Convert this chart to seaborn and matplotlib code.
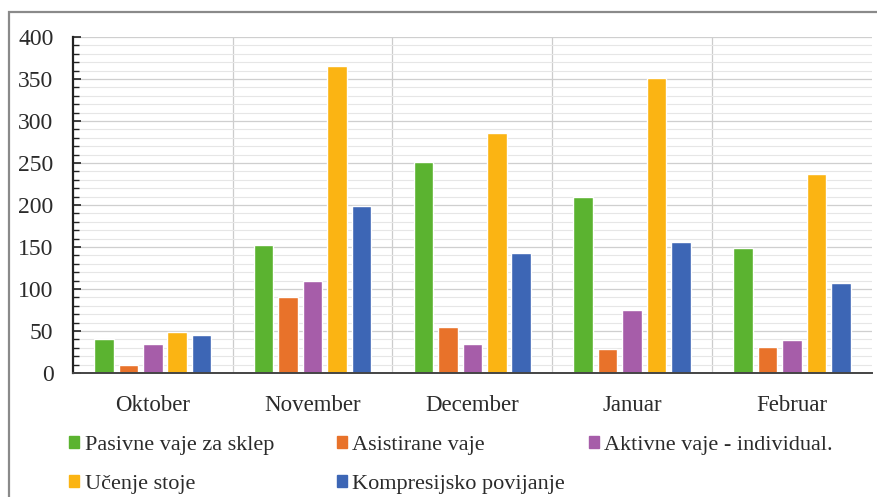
import matplotlib
matplotlib.use("Agg")
import matplotlib.pyplot as plt
import matplotlib.patches as mpatches
from matplotlib.ticker import MultipleLocator
import numpy as np
import pandas as pd
import seaborn as sns

months = ["Oktober", "November", "December", "Januar", "Februar"]
series_names = [
    "Pasivne vaje za sklep",
    "Asistirane vaje",
    "Aktivne vaje - individual.",
    "Učenje stoje",
    "Kompresijsko povijanje",
]
pasivne = [40, 152, 251, 209, 149]
asistirane = [9, 91, 55, 29, 31]
aktivne = [35, 109, 35, 75, 39]
ucenje = [49, 365, 286, 351, 237]
kompresijsko = [45, 199, 143, 156, 107]
colors = ["#5BB330", "#E8722A", "#A65DA9", "#FBB413", "#3D66B5"]

values = [pasivne, asistirane, aktivne, ucenje, kompresijsko]
df = pd.DataFrame(
    [(m, s, v) for s, vals in zip(series_names, values) for m, v in zip(months, vals)],
    columns=["month", "series", "value"],
)

sns.set_theme(style="white")
plt.rcParams["font.family"] = ["Liberation Serif", "DejaVu Serif"]
text_col = "#2b2b2b"

fig = plt.figure(figsize=(8.78, 4.97), dpi=100)
ax = fig.add_axes([0.083, 0.2495, 0.910, 0.6761])

sns.barplot(
    data=df, x="month", y="value", hue="series", order=months,
    hue_order=series_names, palette=colors, width=0.765, gap=0.2,
    saturation=1, errorbar=None, ax=ax, legend=False,
)

ax.set_xlim(-0.5, 4.5)
ax.set_ylim(0, 400)
ax.yaxis.set_major_locator(MultipleLocator(50))
ax.yaxis.set_minor_locator(MultipleLocator(10))
ax.grid(axis="y", which="major", color="#cfcfcf", lw=0.9)
ax.grid(axis="y", which="minor", color="#e6e6e6", lw=0.8)
ax.set_axisbelow(True)
for xb in [0.5, 1.5, 2.5, 3.5]:
    ax.axvline(xb, color="#cccccc", lw=0.9, zorder=0)

for side in ["top", "right"]:
    ax.spines[side].set_visible(False)
ax.spines["left"].set_color("#222222")
ax.spines["bottom"].set_color("#444444")
ax.spines["left"].set_linewidth(1.6)
ax.spines["bottom"].set_linewidth(1.4)

ax.tick_params(axis="y", which="major", direction="in", length=6, width=1.2,
               color="#222222", left=True, labelsize=17, labelcolor=text_col, pad=14)
ax.tick_params(axis="y", which="minor", direction="in", length=4, width=1.0,
               color="#222222", left=True)
ax.tick_params(axis="x", length=0, labelsize=16.5, labelcolor=text_col, pad=16)
ax.set_xlabel("")
ax.set_ylabel("")

# legend laid out as three columns, row-wise
columns = [[0, 3], [1, 4], [2]]
col_x = [0.066, 0.371, 0.658]
for cx, idxs in zip(col_x, columns):
    handles = [mpatches.Patch(color=colors[i]) for i in idxs]
    labels = [series_names[i] for i in idxs]
    fig.legend(handles, labels, loc="upper left", bbox_to_anchor=(cx, 0.146),
               frameon=False, fontsize=16, handlelength=0.45, handleheight=0.45,
               handletextpad=0.25, labelspacing=0.92, borderpad=0,
               labelcolor=text_col)

# outer frame
fig.patches.append(mpatches.Rectangle(
    (9 / 878, -0.05), 1.0, 1 - 12 / 497 + 0.05, transform=fig.transFigure,
    fill=False, edgecolor="#8a8a8a", lw=1.6))

fig.savefig("out.png", dpi=100)
